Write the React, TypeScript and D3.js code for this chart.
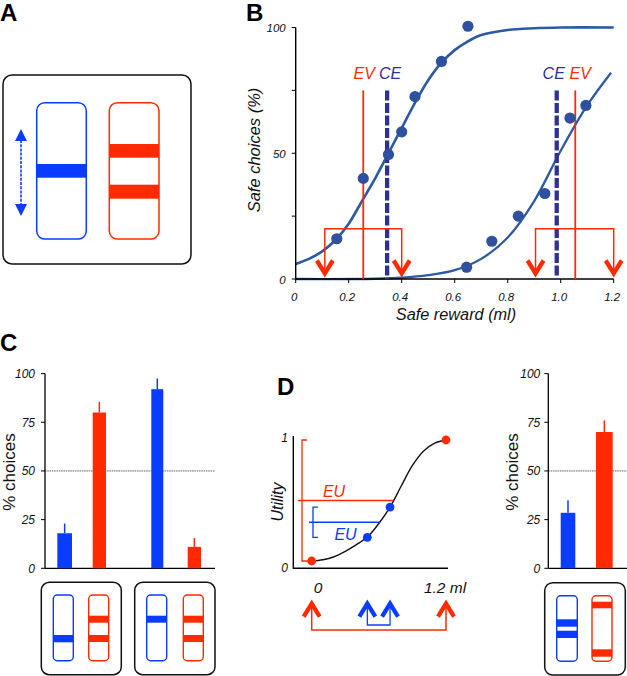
import React from "react";
import * as d3 from "d3";

const BLUE = "#0a3cff";
const RED = "#ff2a00";
const NAVY = "#2b5aa3";
const DOT = "#2f4f9f";
const CE = "#2e3192";
const FONT = "'Liberation Sans', Arial, sans-serif";

const leftPoints: [number, number][] = [[0.155, 16], [0.255, 40], [0.35, 49.5], [0.4, 58.5], [0.45, 72.5], [0.55, 86.5], [0.65, 100.5]];
const rightPoints: [number, number][] = [[0.645, 4.7], [0.74, 15], [0.84, 25], [0.94, 34], [1.035, 64], [1.095, 69]];
const leftCurve: [number, number][] = [[0, 6], [0.05, 8], [0.1, 11], [0.15, 15.5], [0.2, 22], [0.25, 31], [0.3, 40], [0.35, 50], [0.4, 60], [0.45, 70], [0.5, 79], [0.55, 86], [0.6, 91], [0.65, 94.5], [0.7, 97], [0.8, 99], [0.9, 99.7], [1.0, 100], [1.2, 100]];
const rightCurve: [number, number][] = [[0, 0], [0.3, 0.1], [0.4, 0.5], [0.5, 1.5], [0.6, 3.5], [0.7, 8], [0.8, 16.5], [0.9, 31], [1.0, 51], [1.1, 69], [1.19, 82]];
const bTicksX = [0, 0.2, 0.4, 0.6, 0.8, 1.0, 1.2];
const bTicksY = [0, 25, 50, 75, 100];
const bTickLabelsY = [0, 50, 100];
const refLines = [
  { x: 0.255, label: "EV", dashed: false, top: 75 },
  { x: 0.345, label: "CE", dashed: true, top: 75 },
  { x: 0.985, label: "CE", dashed: true, top: 75 },
  { x: 1.055, label: "EV", dashed: false, top: 75 },
];
const forks: [number, number][] = [[0.11, 0.4], [0.905, 1.2]];

const pctTicks = [0, 25, 50, 75, 100];
const cValues = [18, 80, 92, 11];
const cErrors = [23, 85.5, 97.5, 15.5];
const cColors = [BLUE, RED, BLUE, RED];
const cBarX: [number, number][] = [[57.3, 72], [92.7, 106], [151.3, 163.3], [187.7, 201]];
const eValues = [28.5, 70];
const eErrors = [35, 76];
const eColors = [BLUE, RED];
const eBarX: [number, number][] = [[560.7, 575.3], [596, 612.7]];

const utilityCurve: [number, number][] = [[0, 0], [0.1, 0.01], [0.2, 0.035], [0.3, 0.08], [0.4, 0.135], [0.5, 0.2], [0.6, 0.31], [0.7, 0.445], [0.8, 0.62], [0.9, 0.79], [1.0, 0.91], [1.1, 0.975], [1.2, 1]];
const utilityRed: [number, number][] = [[0, 0], [1.2, 1]];
const utilityBlue: [number, number][] = [[0.497, 0.196], [0.7, 0.446]];

function Arrow({ x, y, dir, color, w = 8, h = 13, sw = 4.3 }: any) {
  const s = dir === "down" ? -1 : 1;
  return <path d={`M${x - w},${y + s * h} L${x},${y} L${x + w},${y + s * h}`} fill="none" stroke={color} strokeWidth={sw} />;
}

function Tube({ x0, x1, y0, y1, color, bands, sw = 1.4 }: any) {
  return (
    <g>
      {bands.map((b: [number, number], i: number) => (
        <rect key={i} x={x0} y={b[0]} width={x1 - x0} height={b[1] - b[0]} fill={color} />
      ))}
      <rect x={x0} y={y0} width={x1 - x0} height={y1 - y0} rx={sw > 1.4 ? 8 : 4} fill="none" stroke={color} strokeWidth={sw} />
    </g>
  );
}

function Box({ x0, x1, y0, y1, r = 8 }: any) {
  return <rect x={x0} y={y0} width={x1 - x0} height={y1 - y0} rx={r} fill="#fff" stroke="#111" strokeWidth={1.5} />;
}

function PctAxis({ x, xEnd, labelX, tickGap }: any) {
  const y = d3.scaleLinear().domain([0, 100]).range([568.3, 373.6]);
  return (
    <g fontFamily={FONT}>
      <line x1={x} x2={xEnd} y1={y(50)} y2={y(50)} stroke="#333" strokeWidth={0.8} strokeDasharray="1.5 0.8" />
      <line x1={x} x2={x} y1={y(100)} y2={y(0)} stroke="#000" strokeWidth={1.3} />
      <line x1={x} x2={xEnd} y1={y(0)} y2={y(0)} stroke="#000" strokeWidth={1.3} />
      {pctTicks.map((t) => (
        <g key={t}>
          <line x1={x - 4} x2={x} y1={y(t)} y2={y(t)} stroke="#000" strokeWidth={1} />
          <text x={x - tickGap} y={y(t) + 4.5} textAnchor="end" fontSize={12} fontStyle="italic" fill="#111">{t}</text>
        </g>
      ))}
      <text transform={`translate(${labelX},472) rotate(-90)`} textAnchor="middle" fontSize={17} fill="#111">% choices</text>
    </g>
  );
}

function Bars({ values, errors, colors, xs }: any) {
  const y = d3.scaleLinear().domain([0, 100]).range([568.3, 373.6]);
  return (
    <g>
      {values.map((v: number, i: number) => {
        const [a, b] = xs[i];
        const m = (a + b) / 2;
        return (
          <g key={i}>
            <line x1={m} x2={m} y1={y(v)} y2={y(errors[i])} stroke={colors[i]} strokeWidth={1.5} />
            <rect x={a} width={b - a} y={y(v)} height={y(0) - y(v)} fill={colors[i]} />
          </g>
        );
      })}
    </g>
  );
}

function PanelB() {
  const x = d3.scaleLinear().domain([0, 1.2]).range([295.7, 613.7]);
  const y = d3.scaleLinear().domain([0, 100]).range([279, 27.5]);
  const line = d3.line<[number, number]>().x((d) => x(d[0])).y((d) => y(d[1])).curve(d3.curveCatmullRom.alpha(0.5));
  const forkY = y(20);
  return (
    <g fontFamily={FONT}>
      <path d={line(rightCurve)!} fill="none" stroke={NAVY} strokeWidth={2.3} />
      <path d={line(leftCurve)!} fill="none" stroke={NAVY} strokeWidth={2.6} />
      <line x1={x(0)} x2={x(0)} y1={y(100)} y2={y(0)} stroke="#000" strokeWidth={1.4} />
      <line x1={x(0)} x2={x(1.2)} y1={y(0)} y2={y(0)} stroke="#000" strokeWidth={1.4} />
      {bTicksX.map((t) => (
        <g key={t}>
          <line x1={x(t)} x2={x(t)} y1={y(0)} y2={y(0) + 4} stroke="#000" />
          <text x={x(t) - 1.5} y={301} textAnchor="middle" fontSize={11.5} fontStyle="italic" fill="#111">{t.toFixed(1).replace(/^0\.0$/, "0")}</text>
        </g>
      ))}
      {bTicksY.map((t) => <line key={t} x1={x(0) - 4} x2={x(0)} y1={y(t)} y2={y(t)} stroke="#000" />)}
      {bTickLabelsY.map((t) => (
        <text key={t} x={x(0) - 10} y={y(t) + 4.5} textAnchor="end" fontSize={11.5} fontStyle="italic" fill="#111">{t}</text>
      ))}
      <text transform="translate(260,150) rotate(-90)" textAnchor="middle" fontSize={16.5} fontStyle="italic" fill="#111">Safe choices (%)</text>
      <text x={456} y={320} textAnchor="middle" fontSize={16.3} fontStyle="italic" fill="#111">Safe reward (ml)</text>
      {refLines.map((r, i) => (
        <g key={i}>
          <line x1={x(r.x)} x2={x(r.x)} y1={y(r.top)} y2={y(0)}
            stroke={r.dashed ? CE : RED} strokeWidth={r.dashed ? 4.3 : 1.8}
            strokeDasharray={r.dashed ? "10 2.5" : undefined} />
          <text x={x(r.x) + (r.label === "EV" ? (i === 0 ? 1 : 5) : (i === 1 ? 3 : -3))} y={79} textAnchor="middle"
            fontSize={16} fontStyle="italic" fill={r.dashed ? CE : RED}>{r.label}</text>
        </g>
      ))}
      {forks.map(([a, b], i) => (
        <g key={i}>
          <path d={`M${x(a)},${y(0) - 5} V${forkY} H${x(b)} V${y(0) - 5}`} fill="none" stroke={RED} strokeWidth={1.5} />
          <Arrow x={x(a)} y={y(0) - 5.5} dir="down" color={RED} />
          <Arrow x={x(b)} y={y(0) - 5.5} dir="down" color={RED} />
        </g>
      ))}
      {leftPoints.concat(rightPoints).map((p, i) => (
        <circle key={i} cx={x(p[0])} cy={y(p[1])} r={5.6} fill={DOT} />
      ))}
    </g>
  );
}

function PanelD() {
  const x = d3.scaleLinear().domain([0, 1.2]).range([311.7, 446]);
  const y = d3.scaleLinear().domain([0, 1]).range([561, 440]);
  const line = d3.line<[number, number]>().x((d) => x(d[0])).y((d) => y(d[1])).curve(d3.curveCatmullRom.alpha(0.5));
  const bx = 302;
  const tip = 603.6;
  return (
    <g fontFamily={FONT}>
      <path d={line(utilityCurve)!} fill="none" stroke="#111" strokeWidth={1.4} />
      <path d="M293.3,436 V568.3 H448" fill="none" stroke="#000" strokeWidth={1.4} />
      <text x={288} y={442} textAnchor="end" fontSize={12} fontStyle="italic" fill="#111">1</text>
      <text x={288} y={572} textAnchor="end" fontSize={12} fontStyle="italic" fill="#111">0</text>
      <text transform="translate(283,502) rotate(-90)" textAnchor="middle" fontSize={16} fontStyle="italic" fill="#111">Utility</text>
      <path d={`M${bx + 5},${y(1)} H${bx} V${y(0)} H${bx + 7}`} fill="none" stroke={RED} strokeWidth={1.3} />
      <line x1={298} x2={x(0.73)} y1={y(0.5)} y2={y(0.5)} stroke={RED} strokeWidth={1.4} />
      <text x={334} y={497} textAnchor="middle" fontSize={16} fontStyle="italic" fill={RED}>EU</text>
      <path d={`M318,${y(0.446)} H313 V${y(0.196)} H318`} fill="none" stroke={BLUE} strokeWidth={1.3} />
      <line x1={309} x2={x(0.61)} y1={y(0.32)} y2={y(0.32)} stroke={BLUE} strokeWidth={1.4} />
      <text x={345.5} y={540} textAnchor="middle" fontSize={16} fontStyle="italic" fill={BLUE}>EU</text>
      {utilityRed.map((p, i) => <circle key={i} cx={x(p[0])} cy={y(p[1])} r={4.4} fill={RED} />)}
      {utilityBlue.map((p, i) => <circle key={i} cx={x(p[0])} cy={y(p[1])} r={4.4} fill={BLUE} />)}
      <text x={318} y={593} textAnchor="middle" fontSize={15.5} fontStyle="italic" fill="#111">0</text>
      <text x={445} y={593} textAnchor="middle" fontSize={15.5} fontStyle="italic" fill="#111">1.2 ml</text>
      <path d={`M${x(0)},606 V630 H${x(1.2)} V606`} fill="none" stroke={RED} strokeWidth={1.5} />
      <path d={`M${x(0.497)},606 V625 H${x(0.7)} V606`} fill="none" stroke={BLUE} strokeWidth={1.3} />
      <Arrow x={x(0)} y={tip} dir="up" color={RED} />
      <Arrow x={x(1.2)} y={tip} dir="up" color={RED} />
      <Arrow x={x(0.497)} y={tip} dir="up" color={BLUE} />
      <Arrow x={x(0.7)} y={tip} dir="up" color={BLUE} />
    </g>
  );
}

export default function App() {
  return (
    <svg width={627} height={676} viewBox="0 0 627 676" style={{ position: "absolute", left: 0, top: 0, background: "#fff" }}>
      <g fontFamily={FONT} fontWeight="bold" fontSize={24} fill="#000">
        <text x={0} y={21}>A</text>
        <text x={246} y={21}>B</text>
        <text x={0} y={351}>C</text>
        <text x={277} y={395}>D</text>
      </g>

      <Box x0={3} x1={191} y0={75} y1={264} r={9} />
      <Tube x0={36.7} x1={86.3} y0={102.7} y1={239} color={BLUE} bands={[[164, 177.7]]} sw={1.5} />
      <Tube x0={109.3} x1={159} y0={102.7} y1={239} color={RED} bands={[[144, 157.7], [184.7, 198.7]]} sw={1.5} />
      <line x1={21} x2={21} y1={140} y2={205} stroke={BLUE} strokeWidth={1.6} strokeDasharray="3 1.2" />
      <path d="M21,129 L27,141 L15,141 Z M21,216 L27,204 L15,204 Z" fill={BLUE} />

      <PanelB />

      <PctAxis x={45} xEnd={215} labelX={15} tickGap={10} />
      <Bars values={cValues} errors={cErrors} colors={cColors} xs={cBarX} />
      <Box x0={41.3} x1={121.3} y0={582.3} y1={674.7} />
      <Tube x0={53.3} x1={73.3} y0={595} y1={660.7} color={BLUE} bands={[[635, 642.3]]} />
      <Tube x0={88.7} x1={108.7} y0={595} y1={660.7} color={RED} bands={[[615.7, 622.7], [635, 642]]} />
      <Box x0={134.7} x1={215} y0={582.3} y1={674.7} />
      <Tube x0={146.7} x1={166.7} y0={595} y1={660.7} color={BLUE} bands={[[615.7, 622.7]]} />
      <Tube x0={183.3} x1={203.3} y0={595} y1={660.7} color={RED} bands={[[615.7, 622.7], [635, 642]]} />

      <PanelD />

      <PctAxis x={548.3} xEnd={627} labelX={518} tickGap={8} />
      <Bars values={eValues} errors={eErrors} colors={eColors} xs={eBarX} />
      <Box x0={544.7} x1={625.3} y0={582.7} y1={675} />
      <Tube x0={556.7} x1={577.3} y0={595.7} y1={661.3} color={BLUE} bands={[[619.3, 626.7], [630.7, 638]]} />
      <Tube x0={592} x1={612} y0={595.7} y1={661.3} color={RED} bands={[[601.7, 608.3], [649.3, 656.7]]} />
    </svg>
  );
}
